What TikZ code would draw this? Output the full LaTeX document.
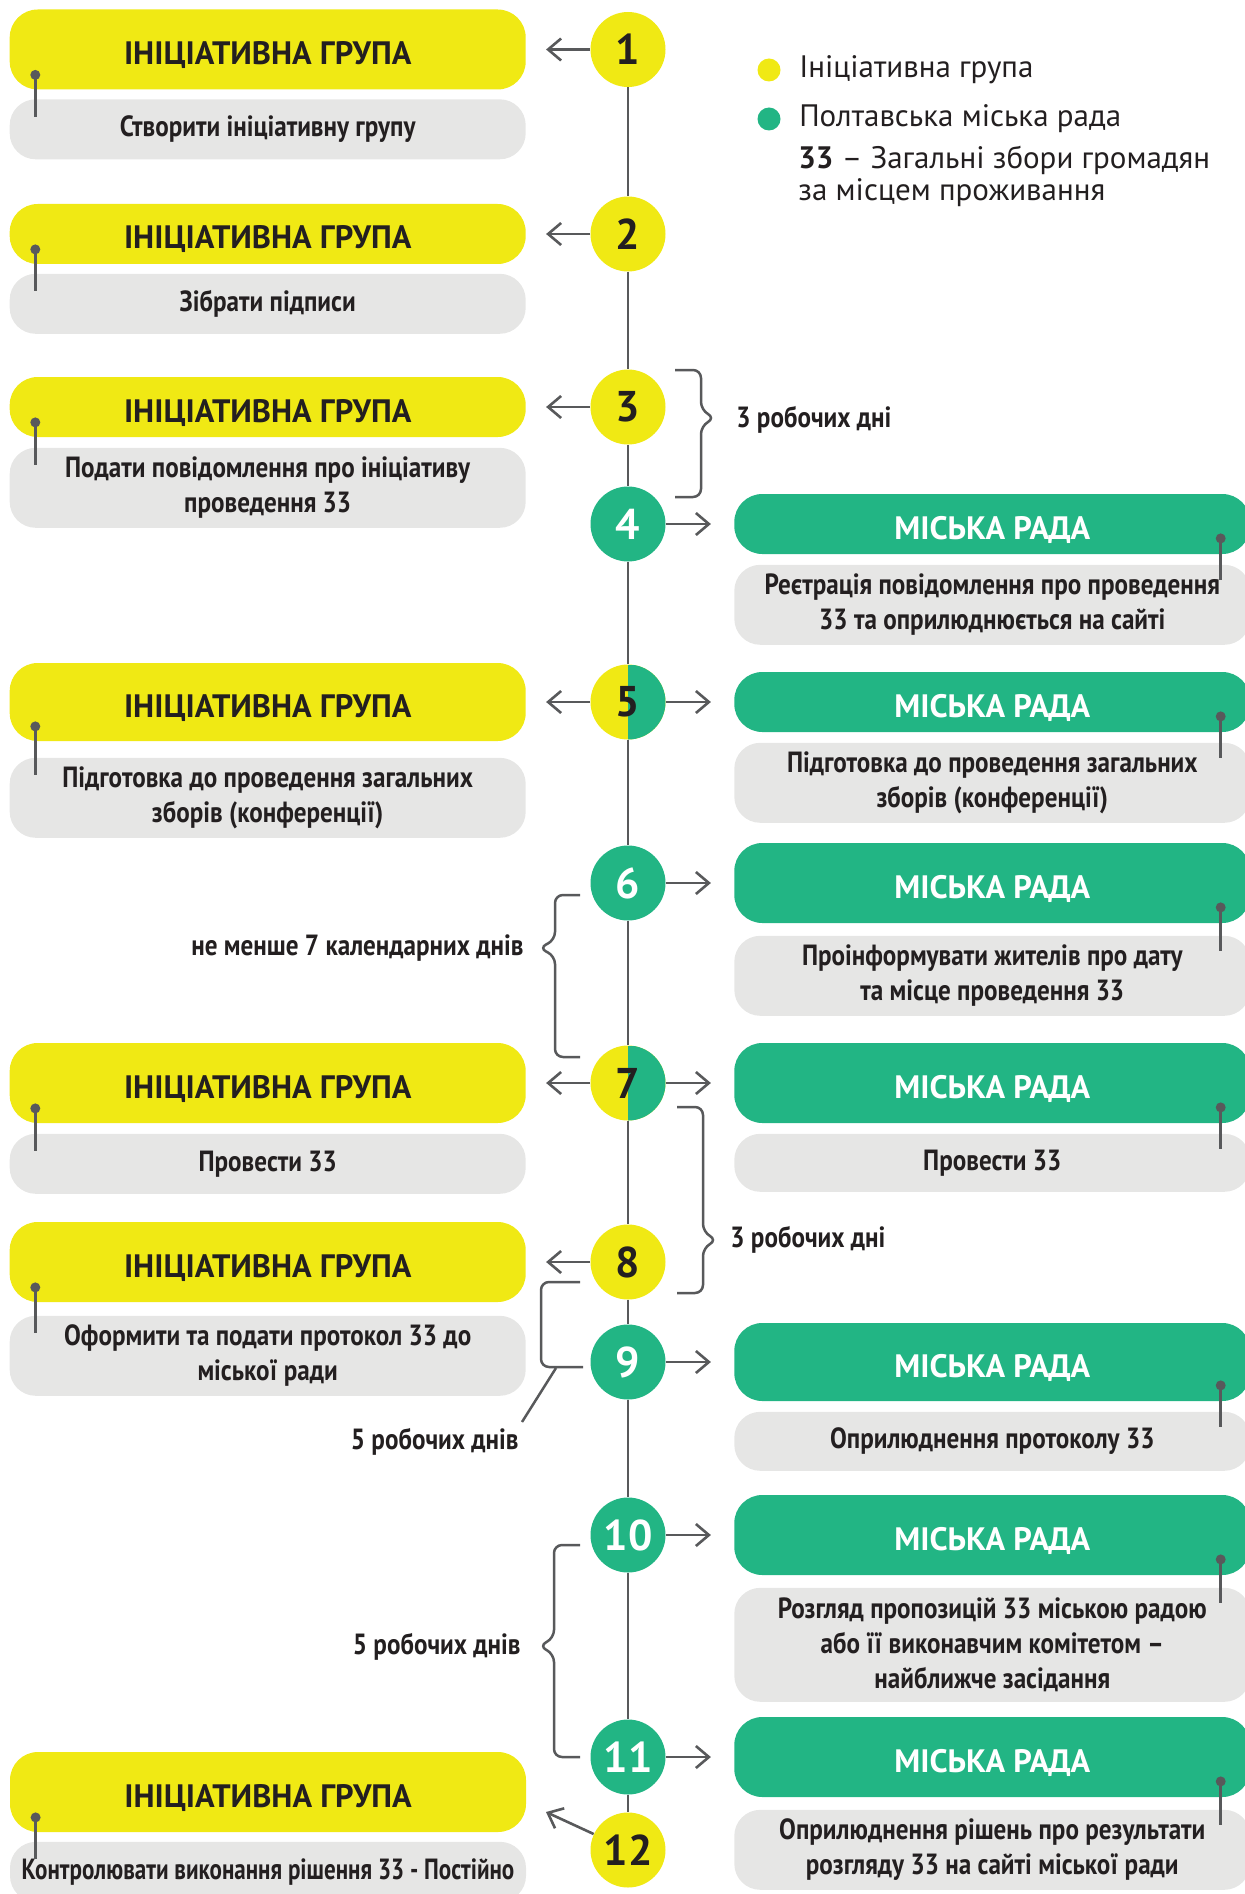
\documentclass[tikz,border=0pt]{standalone}
\usepackage{fontspec}
\setmainfont{PT Sans}
\newfontfamily\narrowfont[FakeStretch=0.86]{PT Sans}
\newfontfamily\tightfont[FakeStretch=0.79]{PT Sans}
\usetikzlibrary{positioning,arrows.meta}
\definecolor{yel}{HTML}{F0E914}
\definecolor{grn}{HTML}{22B584}
\definecolor{boxgray}{HTML}{E6E6E5}
\definecolor{linegray}{HTML}{58595B}
\definecolor{ink}{HTML}{231F20}

\begin{document}
\begin{tikzpicture}[x=0.5pt,y=-0.5pt,
		num/.style={circle,fill=yel,minimum size=37.5pt,inner sep=0pt,text=ink,font=\bfseries\fontsize{21.5}{21.5}\selectfont},
		numg/.style={num,fill=grn,text=white},
		numsplit/.style={num,path picture={\fill[grn] (path picture bounding box.north) rectangle (path picture bounding box.south east);}},
		grp/.style={rectangle,rounded corners=14pt,fill=yel,minimum width=258pt,minimum height=40pt,inner sep=0pt,text height=15pt,text depth=0pt,text=ink,font=\bfseries\fontsize{16.2}{18}\selectfont},
		rada/.style={grp,fill=grn,text=white},
		task/.style={rectangle,rounded corners=13pt,fill=boxgray,minimum width=258pt,minimum height=30pt,inner sep=0pt,align=center,text=ink,font=\narrowfont\bfseries\fontsize{14.6}{17.5}\selectfont},
		days/.style={inner sep=0pt,text=ink,font=\narrowfont\bfseries\fontsize{14.6}{17.5}\selectfont},
		legend/.style={inner sep=0pt,align=left,text=ink,font=\fontsize{15.5}{16}\selectfont},
		legdot/.style={circle,minimum size=11.5pt,inner sep=0pt},
		spine/.style={draw=linegray,line width=1.25pt},
		brace/.style={draw=linegray,line width=1.25pt,rounded corners=4pt},
		toleft/.style={draw=linegray,line width=1.3pt,-{Straight Barb[length=6.5pt,width=11pt]},shorten >=10pt},
		toright/.style={draw=linegray,line width=1.3pt,-{Straight Barb[length=6.5pt,width=11pt]},shorten >=11.5pt},
		pinline/.style={draw=linegray,line width=1.5pt}]
	\useasboundingbox (0,0) rectangle (1245,1894);

	\node[num]      (c1)  at (628,49.5) {1};
	\node[num]      (c2)  at (628,234)  {2};
	\node[num]      (c3)  at (628,407)  {3};
	\node[numg]     (c4)  at (628,524)  {4};
	\node[numsplit] (c5)  at (628,702)  {5};
	\node[numg]     (c6)  at (628,883)  {6};
	\node[numsplit] (c7)  at (628,1083) {7};
	\node[num]      (c8)  at (628,1262) {8};
	\node[numg]     (c9)  at (628,1362) {9};
	\node[numg]     (c10) at (628,1535) {10};
	\node[numg]     (c11) at (628,1757) {11};
	\node[num]      (c12) at (628,1850) {12};

	\node[grp,left=32pt of c1]                    (grp1)  {ІНІЦІАТИВНА ГРУПА};
	\node[task,below=4.5pt of grp1]               (tl1)   {Створити ініціативну групу};
	\node[grp,left=32pt of c2,minimum height=30pt] (grp2) {ІНІЦІАТИВНА ГРУПА};
	\node[task,below=4.5pt of grp2]               (tl2)   {Зібрати підписи};
	\node[grp,left=32pt of c3,minimum height=30pt] (grp3) {ІНІЦІАТИВНА ГРУПА};
	\node[task,below=5pt of grp3,minimum height=40pt] (tl3) {Подати повідомлення про ініціативу\\проведення 33};
	\node[grp,left=32pt of c5,minimum height=39pt] (grp5) {ІНІЦІАТИВНА ГРУПА};
	\node[task,below=8pt of grp5,minimum height=40pt] (tl5) {Підготовка до проведення загальних\\зборів (конференції)};
	\node[grp,left=32pt of c7]                    (grp7)  {ІНІЦІАТИВНА ГРУПА};
	\node[task,below=5pt of grp7]                 (tl7)   {Провести 33};
	\node[grp,left=32pt of c8]                    (grp8)  {ІНІЦІАТИВНА ГРУПА};
	\node[task,below=6.5pt of grp8,minimum height=40pt] (tl8) {Оформити та подати протокол 33 до\\міської ради};
	\node[grp]                                    (grp12) at (268,1792) {ІНІЦІАТИВНА ГРУПА};
	\node[task,below=4.5pt of grp12]              (tl12)  {\tightfont\bfseries Контролювати виконання рішення 33 - Постійно};

	\node[rada,right=34pt of c4,minimum height=30pt] (rada4) {МІСЬКА РАДА};
	\node[task,below=5pt of rada4,minimum height=40pt] (tr4) {Реєтрація повідомлення про проведення\\33 та оприлюднюється на сайті};
	\node[rada,right=34pt of c5,minimum height=30pt] (rada5) {МІСЬКА РАДА};
	\node[task,below=5pt of rada5,minimum height=40pt] (tr5) {Підготовка до проведення загальних\\зборів (конференції)};
	\node[rada,right=34pt of c6]                  (rada6) {МІСЬКА РАДА};
	\node[task,below=6pt of rada6,minimum height=40pt] (tr6) {Проінформувати жителів про дату\\та місце проведення 33};
	\node[rada,right=34pt of c7]                  (rada7) {МІСЬКА РАДА};
	\node[task,below=5pt of rada7,minimum height=29pt] (tr7) {Провести 33};
	\node[rada,right=34pt of c9,minimum height=39pt] (rada9) {МІСЬКА РАДА};
	\node[task,below=5pt of rada9,minimum height=29.5pt] (tr9) {Оприлюднення протоколу 33};
	\node[rada,right=34pt of c10]                 (rada10) {МІСЬКА РАДА};
	\node[task,below=6pt of rada10,minimum height=57pt] (tr10) {Розгляд пропозицій 33 міською радою\\або її виконавчим комітетом –\\найближче засідання};
	\node[rada,right=34pt of c11]                 (rada11) {МІСЬКА РАДА};
	\node[task,below=6pt of rada11,minimum height=40pt] (tr11) {Оприлюднення рішень про результати\\розгляду 33 на сайті міської ради};

	\foreach \a/\b in {1/2,2/3,3/4,4/5,5/6,6/7,7/8,8/9,9/10,10/11,11/12}
		\draw[spine] (c\a) -- (c\b);

	\foreach \n in {1,2,3,5,7,8}
		\draw[toleft] (c\n.west) -- (grp\n.east);
	\foreach \n in {4,5,6,7,9,10,11}
		\draw[toright] (c\n.east) -- (rada\n.west);
	\coordinate (tip12) at (546,1812);
	\draw[toleft,shorten >=0pt] (c12.155) -- (tip12);

	\foreach \n in {1,2,3,5,7,8,12} {
		\draw[pinline] ([shift={(13pt,7.5pt)}]grp\n.south west) -- ([shift={(13pt,-9pt)}]tl\n.north west);
		\fill[linegray] ([shift={(13pt,7.5pt)}]grp\n.south west) circle (2.5pt);
	}
	\foreach \n in {4,5,6,7,9,10,11} {
		\draw[pinline] ([shift={(-15pt,8pt)}]rada\n.south east) -- ([shift={(-15pt,-8pt)}]tr\n.north east);
		\fill[linegray] ([shift={(-15pt,8pt)}]rada\n.south east) circle (2.5pt);
	}

	\draw[brace] (675,370) -- (701,370) -- (701,410) -- (715,418) -- (701,426) -- (701,497) -- (675,497);
	\node[days,anchor=west] (d34) at (736,420) {3 робочих дні};
	\draw[brace] (580,895) -- (555,895) -- (555,940) -- (539,948) -- (555,956) -- (555,1057) -- (580,1057);
	\node[days,anchor=east] (d67) at (524,948) {не менше 7 календарних днів};
	\draw[brace] (677,1107) -- (703,1107) -- (703,1232) -- (717,1240) -- (703,1248) -- (703,1293) -- (677,1293);
	\node[days,anchor=west] (d78) at (730,1240) {3 робочих дні};
	\draw[brace] (580,1282) -- (541,1282) -- (541,1367) -- (583,1367);
	\node[days,anchor=east] (d89) at (519,1442) {5 робочих днів};
	\draw[spine] (556,1368) -- (522,1422);
	\draw[brace] (580,1545) -- (554,1545) -- (554,1638) -- (539,1646) -- (554,1654) -- (554,1757) -- (580,1757);
	\node[days,anchor=east] (d1011) at (521,1647) {5 робочих днів};

	\node[legdot,fill=yel] (ldy) at (769,70) {};
	\node[legend,right=9pt of ldy] (lty) {Ініціативна група};
	\node[legdot,fill=grn] (ldg) at (769,119) {};
	\node[legend,right=9pt of ldg] (ltg) {Полтавська міська рада};
	\node[legend,anchor=north west] (lt33) at (798,146) {\textbf{33} – Загальні збори громадян\\за місцем проживання};
\end{tikzpicture}
\end{document}
